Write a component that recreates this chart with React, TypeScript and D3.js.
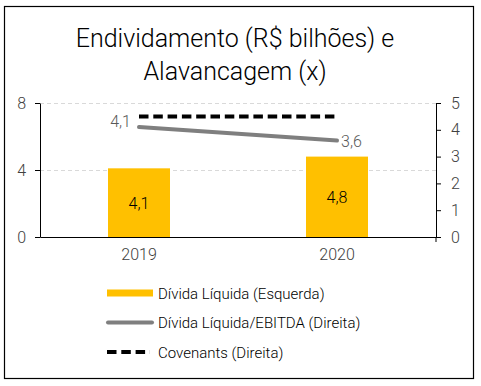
import React, { useEffect, useRef } from 'react';
import * as d3 from 'd3';

const years = ['2019', '2020'];
const dividaLiquida = [4.1, 4.8];
const alavancagem = [4.1, 3.6];
const covenants = [4.5, 4.5];
const leftTicks = [0, 4, 8];
const rightTicks = [0, 1, 2, 3, 4, 5];
const titleLines = ['Endividamento (R$ bilhões) e', 'Alavancagem (x)'];
const legendItems = ['Dívida Líquida (Esquerda)', 'Dívida Líquida/EBITDA (Direita)', 'Covenants (Direita)'];

const fmt = (v: number) => v.toFixed(1).replace('.', ',');

const App = () => {
    const ref = useRef<SVGSVGElement>(null);

    useEffect(() => {
        const svg = d3.select(ref.current);
        svg.selectAll('*').remove();

        const width = 481;
        const height = 386;
        const margin = { top: 103, right: 45, bottom: 149, left: 40 };
        const innerW = width - margin.left - margin.right;
        const innerH = height - margin.top - margin.bottom;
        const font = 'Roboto, sans-serif';
        const textColor = '#404040';

        svg.append('rect')
            .attr('x', 4.5).attr('y', 6.5)
            .attr('width', 469).attr('height', 372)
            .attr('fill', 'white').attr('stroke', 'black').attr('stroke-width', 1.2);

        // title
        svg.append('text')
            .attr('x', 235).attr('y', 47)
            .attr('text-anchor', 'middle')
            .style('font-family', font).style('font-weight', 300)
            .style('font-size', '25px').attr('fill', '#000')
            .selectAll('tspan').data(titleLines).join('tspan')
            .attr('x', 235).attr('dy', (d, i) => (i === 0 ? 0 : 33))
            .text(d => d);

        const x = d3.scaleBand().domain(years).range([0, innerW]);
        const yL = d3.scaleLinear().domain([0, 8]).range([innerH, 0]);
        const yR = d3.scaleLinear().domain([0, 5]).range([innerH, 0]);

        const g = svg.append('g').attr('transform', `translate(${margin.left},${margin.top})`);

        // gridlines
        g.selectAll('.grid').data(leftTicks.filter(t => t > 0)).join('line')
            .attr('x1', 0).attr('x2', innerW)
            .attr('y1', d => yL(d) + 0.5).attr('y2', d => yL(d) + 0.5)
            .attr('stroke', '#d9d9d9').attr('stroke-dasharray', '4,3');

        // bars
        const barW = 62;
        g.selectAll('.bar').data(dividaLiquida).join('rect')
            .attr('x', (d, i) => x(years[i])! + x.bandwidth() / 2 - barW / 2)
            .attr('y', d => yL(d))
            .attr('width', barW)
            .attr('height', d => innerH - yL(d))
            .attr('fill', '#FFC000');

        g.selectAll('.barlabel').data(dividaLiquida).join('text')
            .attr('x', (d, i) => x(years[i])! + x.bandwidth() / 2)
            .attr('y', d => (yL(d) + innerH) / 2 + 6)
            .attr('text-anchor', 'middle')
            .style('font-family', font).style('font-weight', 300).style('font-size', '16px')
            .attr('fill', '#000')
            .text(d => fmt(d));

        const cx = (i: number) => x(years[i])! + x.bandwidth() / 2;

        // covenants
        const covLine = d3.line<number>().x((d, i) => cx(i)).y(d => yR(d));
        g.append('path').datum(covenants)
            .attr('d', covLine)
            .attr('fill', 'none').attr('stroke', 'black')
            .attr('stroke-width', 4).attr('stroke-dasharray', '9.5,4.8');

        // ratio line
        g.append('path').datum(alavancagem)
            .attr('d', covLine)
            .attr('fill', 'none').attr('stroke', '#7F7F7F')
            .attr('stroke-width', 4).attr('stroke-linecap', 'round');

        g.selectAll('.linelabel').data(alavancagem).join('text')
            .attr('x', (d, i) => (i === 0 ? cx(i) - 8 : cx(i) + 4))
            .attr('y', (d, i) => yR(d) + (i === 0 ? 0 : 6))
            .attr('text-anchor', (d, i) => (i === 0 ? 'end' : 'start'))
            .style('font-family', font).style('font-weight', 300).style('font-size', '16px')
            .attr('fill', '#595959')
            .text(d => fmt(d));

        // axes
        const styleAxis = (sel: any) => {
            sel.selectAll('path, line').attr('stroke', 'black');
            sel.selectAll('text')
                .style('font-family', font).style('font-weight', 300).style('font-size', '16px')
                .attr('fill', textColor);
        };

        g.append('g')
            .call(d3.axisLeft(yL).tickValues(leftTicks).tickFormat(d3.format('d')).tickSize(5).tickSizeOuter(0).tickPadding(9))
            .call(styleAxis);

        g.append('g')
            .attr('transform', `translate(${innerW},0)`)
            .call(d3.axisRight(yR).tickValues(rightTicks).tickFormat(d3.format('d')).tickSize(5).tickSizeOuter(0).tickPadding(10))
            .call(styleAxis);

        const xAxis = g.append('g')
            .attr('transform', `translate(0,${innerH})`)
            .call(d3.axisBottom(x).tickSize(0).tickSizeOuter(0).tickPadding(12))
            .call(styleAxis);
        xAxis.append('line')
            .attr('x1', innerW).attr('x2', innerW).attr('y1', 0).attr('y2', 5)
            .attr('stroke', 'black');

        // legend
        const lg = svg.append('g').attr('transform', 'translate(107,293)');
        legendItems.forEach((label, i) => {
            const row = lg.append('g').attr('transform', `translate(0,${i * 29.5})`);
            if (i === 0) {
                row.append('rect').attr('x', 0).attr('y', -3.5).attr('width', 46).attr('height', 7).attr('fill', '#FFC000');
            } else if (i === 1) {
                row.append('line').attr('x1', 1).attr('x2', 45).attr('y1', 0).attr('y2', 0)
                    .attr('stroke', '#7F7F7F').attr('stroke-width', 4).attr('stroke-linecap', 'round');
            } else {
                row.append('line').attr('x1', 0).attr('x2', 43).attr('y1', 0).attr('y2', 0)
                    .attr('stroke', 'black').attr('stroke-width', 4).attr('stroke-dasharray', '9.5,4.8');
            }
            row.append('text')
                .attr('x', 51).attr('y', 5.5)
                .style('font-family', font).style('font-weight', 300).style('font-size', '15px')
                .attr('fill', '#000')
                .text(label);
        });
    }, []);

    return (
        <div style={{ position: 'absolute', left: 0, top: 0 }}>
            <svg ref={ref} width={481} height={386} style={{ display: 'block' }}></svg>
        </div>
    );
};

export default App;
